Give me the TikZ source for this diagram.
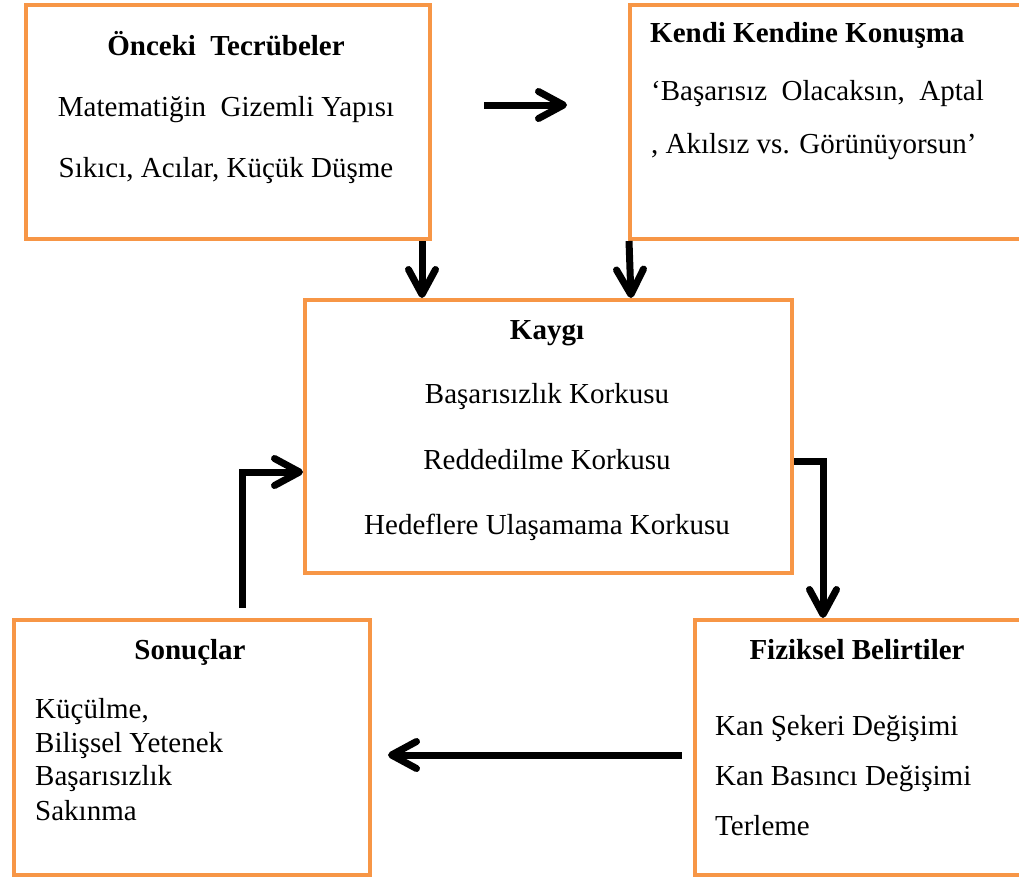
\documentclass[tikz,border=0pt]{standalone}
\usepackage{fontspec}
\setmainfont{Liberation Serif}
\usetikzlibrary{arrows.meta}
\definecolor{boxorange}{RGB}{247,150,70}
\pgfdeclarearrow{
  name = Chevron,
  parameters = {\the\pgfarrowlength,\the\pgfarrowwidth,\the\pgflinewidth},
  setup code = {
    \pgfarrowssettipend{.5\pgflinewidth}
    \pgfarrowssetlineend{-.5\pgflinewidth}
    \pgfarrowssetbackend{-\pgfarrowlength}
    \pgfarrowshullpoint{.5\pgflinewidth}{0pt}
    \pgfarrowsupperhullpoint{-\pgfarrowlength}{.5\pgfarrowwidth}
    \pgfarrowssavethe\pgfarrowlength
    \pgfarrowssavethe\pgfarrowwidth
  },
  drawing code = {
    \pgfsetdash{}{0pt}
    \pgfsetroundcap
    \pgfsetroundjoin
    \pgfpathmoveto{\pgfqpoint{-\pgfarrowlength}{.5\pgfarrowwidth}}
    \pgfpathlineto{\pgfpointorigin}
    \pgfpathlineto{\pgfqpoint{-\pgfarrowlength}{-.5\pgfarrowwidth}}
    \pgfusepathqstroke
  },
  defaults = {length=24pt, width=26pt}
}
\begin{document}
\begin{tikzpicture}[x=1pt,y=-1pt,
  box/.style={draw=boxorange, line width=4pt, rectangle, anchor=north west, inner sep=0pt, fill=white},
  txt/.style={anchor=base, inner sep=0pt, font=\fontsize{29}{34}\selectfont},
  ltxt/.style={anchor=base west, inner sep=0pt, font=\fontsize{29}{34}\selectfont},
  ttl/.style={anchor=base, inner sep=0pt, font=\fontsize{29}{34}\selectfont\bfseries},
  arr/.style={line width=7pt, -{Chevron[length=25pt,width=27pt]}}]
\useasboundingbox (0,0) rectangle (1019,876);
\clip (0,0) rectangle (1019,876);
\fill[white] (0,0) rectangle (1019,876);
% boxes
\node[box, minimum width=404pt, minimum height=234pt] (b1) at (24,3) {};
\node[box, minimum width=402pt, minimum height=234pt] (b2) at (628,3) {};
\node[box, minimum width=487pt, minimum height=273pt] (b3) at (303,298) {};
\node[box, minimum width=356pt, minimum height=255pt] (b4) at (12,618) {};
\node[box, minimum width=337pt, minimum height=255pt] (b5) at (693,618) {};
% texts box 1
\node[ttl] (t11) at (226,55) {Önceki\ \ Tecrübeler};
\node[txt] (t12) at (226,116) {Matematiğin\ \ Gizemli Yapısı};
\node[txt] (t13) at (226,177) {Sıkıcı, Acılar, Küçük Düşme};
% texts box 2
\node[ttl, anchor=base west] (t21) at (650,42) {Kendi Kendine Konuşma};
\node[ltxt] (t22) at (651,100) {‘Başarısız\ \ Olacaksın,\ \ Aptal};
\node[ltxt] (t23) at (651,153) {, Akılsız vs. Görünüyorsun’};
% texts box 3
\node[ttl] (t31) at (547,339) {Kaygı};
\node[txt] (t32) at (547,403) {Başarısızlık Korkusu};
\node[txt] (t33) at (547,469) {Reddedilme Korkusu};
\node[txt] (t34) at (547,534) {Hedeflere Ulaşamama Korkusu};
% texts box 4
\node[ttl] (t41) at (190,659) {Sonuçlar};
\node[ltxt] (t42) at (35,718) {Küçülme,};
\node[ltxt] (t43) at (35,752) {Bilişsel Yetenek};
\node[ltxt] (t44) at (35,785) {Başarısızlık};
\node[ltxt] (t45) at (35,820) {Sakınma};
% texts box 5
\node[ttl] (t51) at (857,659) {Fiziksel Belirtiler};
\node[ltxt] (t52) at (715,735) {Kan Şekeri Değişimi};
\node[ltxt] (t53) at (715,785) {Kan Basıncı Değişimi};
\node[ltxt] (t54) at (715,835) {Terleme};
% helper coordinates
\coordinate (r1) at (484,105);
\coordinate (r2) at (567,105);
\coordinate (x422) at (422,0);
\coordinate (x629) at (629,0);
\coordinate (x631) at (631,0);
\coordinate (s4) at (242,608);
\coordinate (y472) at (0,472);
\coordinate (y461) at (0,461);
\coordinate (x823) at (823,0);
\coordinate (l1) at (682,755);
\coordinate (l2) at (388,755);
% arrows
\draw[arr] (r1) -- (r2);
\draw[arr] (b1.south -| x422) -- (b3.north -| x422);
\draw[arr] (b2.south -| x629) -- (b3.north -| x631);
\draw[arr] (s4) |- (b3.west |- y472);
\draw[arr] (b3.east |- y461) -| (b5.north -| x823);
\draw[arr] (l1) -- (l2);
\end{tikzpicture}
\end{document}
